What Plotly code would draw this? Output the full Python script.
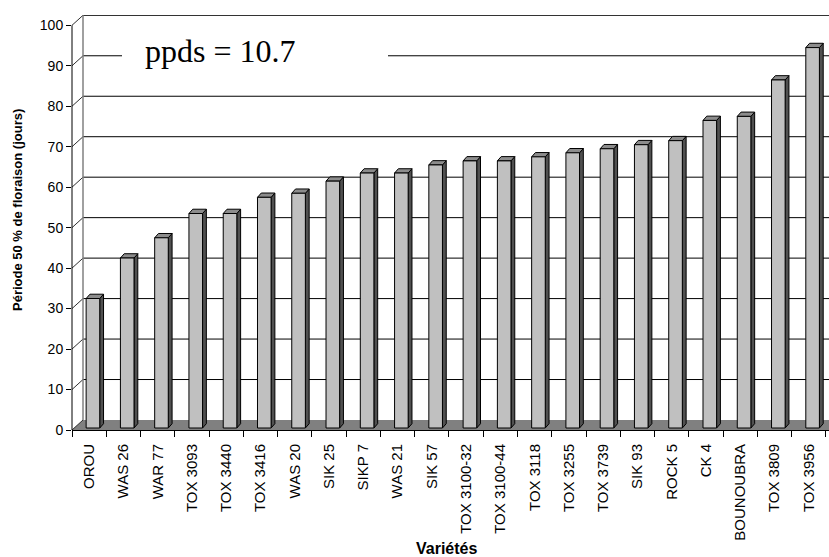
import plotly.graph_objects as go

# ---------------- data ----------------
categories = ["OROU", "WAS 26", "WAR 77", "TOX 3093", "TOX 3440", "TOX 3416",
              "WAS 20", "SIK 25", "SIKP 7", "WAS 21", "SIK 57", "TOX 3100-32",
              "TOX 3100-44", "TOX 3118", "TOX 3255", "TOX 3739", "SIK 93",
              "ROCK 5", "CK 4", "BOUNOUBRA", "TOX 3809", "TOX 3956"]
values = [32, 42, 47, 53, 53, 57, 58, 61, 63, 63, 65, 66, 66, 67, 68, 69, 70,
          71, 76, 77, 86, 94]
y_ticks = [0, 10, 20, 30, 40, 50, 60, 70, 80, 90, 100]
y_title = "Période 50 % de floraison (jours)"
x_title = "Variétés"
note = "ppds = 10.7"

# ---------------- geometry / style ----------------
W, H = 829, 557
ML, MR, MT, MB = 72, 0, 15, 127
PX_PER_CAT = 34.27
PX_PER_UNIT = 4.047
plot_w = W - ML - MR
plot_h = H - MT - MB
x_range = [-0.5, -0.5 + plot_w / PX_PER_CAT]
y_range = [0, plot_h / PX_PER_UNIT]

WALL_DX = 11 / PX_PER_CAT
WALL_DY = 10 / PX_PER_UNIT
BAR_OFF = 3.8 / PX_PER_CAT
BAR_W = 13.6 / PX_PER_CAT
BAR_BASE = 2 / PX_PER_UNIT
BAR_DX = 3.8 / PX_PER_CAT
BAR_DY = 4.3 / PX_PER_UNIT

FONT = "Liberation Sans, Arial, sans-serif"
SERIF = "Liberation Serif, Times New Roman, serif"

n = len(categories)
xs = list(range(n))
x_left = x_range[0]
x_far = x_range[1] + 1

fig = go.Figure()

# floor
fig.add_trace(go.Scatter(
    x=[x_left, x_far, x_far, x_left + WALL_DX, x_left],
    y=[0, 0, WALL_DY, WALL_DY, 0],
    fill="toself", fillcolor="#808080", mode="lines",
    line=dict(width=0, color="#808080"), hoverinfo="skip", showlegend=False))

# back wall gridlines
gx, gy = [], []
for v in y_ticks[1:]:
    gx += [x_left + WALL_DX, x_far, None]
    gy += [v + WALL_DY, v + WALL_DY, None]
fig.add_trace(go.Scatter(x=gx, y=gy, mode="lines",
                         line=dict(color="#000000", width=1),
                         hoverinfo="skip", showlegend=False))

# side wall connectors
cx, cy = [], []
for v in y_ticks:
    cx += [x_left, x_left + WALL_DX, None]
    cy += [v, v + WALL_DY, None]
fig.add_trace(go.Scatter(x=cx, y=cy, mode="lines",
                         line=dict(color="#303030", width=1),
                         hoverinfo="skip", showlegend=False))

# back wall left edge
fig.add_trace(go.Scatter(x=[x_left + WALL_DX, x_left + WALL_DX],
                         y=[WALL_DY, y_ticks[-1] + WALL_DY], mode="lines",
                         line=dict(color="#808080", width=1.5),
                         hoverinfo="skip", showlegend=False))

# bars (pseudo 3D)
fx, fy, sx, sy, tx, ty = [], [], [], [], [], []
for i, v in zip(xs, values):
    x0 = i + BAR_OFF - BAR_W / 2
    x1 = x0 + BAR_W
    y0 = BAR_BASE
    y1 = BAR_BASE + v
    fx += [x0, x1, x1, x0, x0, None]
    fy += [y0, y0, y1, y1, y0, None]
    sx += [x1, x1 + BAR_DX, x1 + BAR_DX, x1, x1, None]
    sy += [y0, y0 + BAR_DY, y1 + BAR_DY, y1, y0, None]
    tx += [x0, x1, x1 + BAR_DX, x0 + BAR_DX, x0, None]
    ty += [y1, y1, y1 + BAR_DY, y1 + BAR_DY, y1, None]

for px, py, col in [(sx, sy, "#505050"), (tx, ty, "#8c8c8c"), (fx, fy, "#c0c0c0")]:
    fig.add_trace(go.Scatter(x=px, y=py, fill="toself", fillcolor=col,
                             mode="lines", line=dict(color="#000000", width=1),
                             hoverinfo="skip", showlegend=False))

# invisible trace to activate xaxis2
fig.add_trace(go.Scatter(x=[x_left], y=[0], xaxis="x2", mode="markers",
                         marker=dict(opacity=0), hoverinfo="skip",
                         showlegend=False))

fig.update_layout(
    width=W, height=H,
    margin=dict(l=ML, r=MR, t=MT, b=MB, pad=0),
    paper_bgcolor="white", plot_bgcolor="white",
    font=dict(family=FONT, color="black"),
    xaxis=dict(range=x_range, tickvals=xs, ticktext=categories,
               tickangle=-90, tickfont=dict(size=15, family=FONT),
               ticks="outside", ticklen=7, tickcolor="rgba(0,0,0,0)",
               showgrid=False, zeroline=False, showline=True,
               linecolor="black", linewidth=1),
    xaxis2=dict(range=x_range, overlaying="x", anchor="y", side="bottom",
                tickvals=[i - 0.5 for i in range(n + 1)], ticks="outside",
                ticklen=6, tickcolor="black", showticklabels=False,
                showgrid=False, zeroline=False, showline=False),
    yaxis=dict(range=y_range, tickvals=y_ticks,
               ticktext=[str(v) for v in y_ticks],
               tickfont=dict(size=14, family=FONT),
               ticks="outside", ticklen=5, tickcolor="black",
               showgrid=False, zeroline=False, showline=False),
    shapes=[
        dict(type="line", xref="paper", yref="y", x0=0, x1=0, y0=0,
             y1=y_ticks[-1], line=dict(color="black", width=1)),
        dict(type="rect", xref="paper", yref="paper",
             x0=(122 - ML) / plot_w, x1=(388 - ML) / plot_w,
             y0=(H - MB - 78) / plot_h, y1=(H - MB - 32) / plot_h,
             fillcolor="white", line=dict(width=0), layer="above"),
    ],
    annotations=[
        dict(text=note, xref="paper", yref="paper",
             x=(143 - ML) / plot_w, y=(H - MB - 51) / plot_h,
             xanchor="left", yanchor="middle", showarrow=False,
             font=dict(family=SERIF, size=32, color="black")),
        dict(text="<b>" + y_title + "</b>", xref="paper", yref="paper",
             x=(18 - ML) / plot_w, y=(H - MB - 210) / plot_h,
             textangle=-90, xanchor="center", yanchor="middle",
             showarrow=False, font=dict(family=FONT, size=13, color="black")),
        dict(text="<b>" + x_title + "</b>", xref="paper", yref="paper",
             x=(446 - ML) / plot_w, y=(H - MB - 548) / plot_h,
             xanchor="center", yanchor="middle", showarrow=False,
             font=dict(family=FONT, size=16, color="black")),
    ],
)

fig.write_html("out.html")
